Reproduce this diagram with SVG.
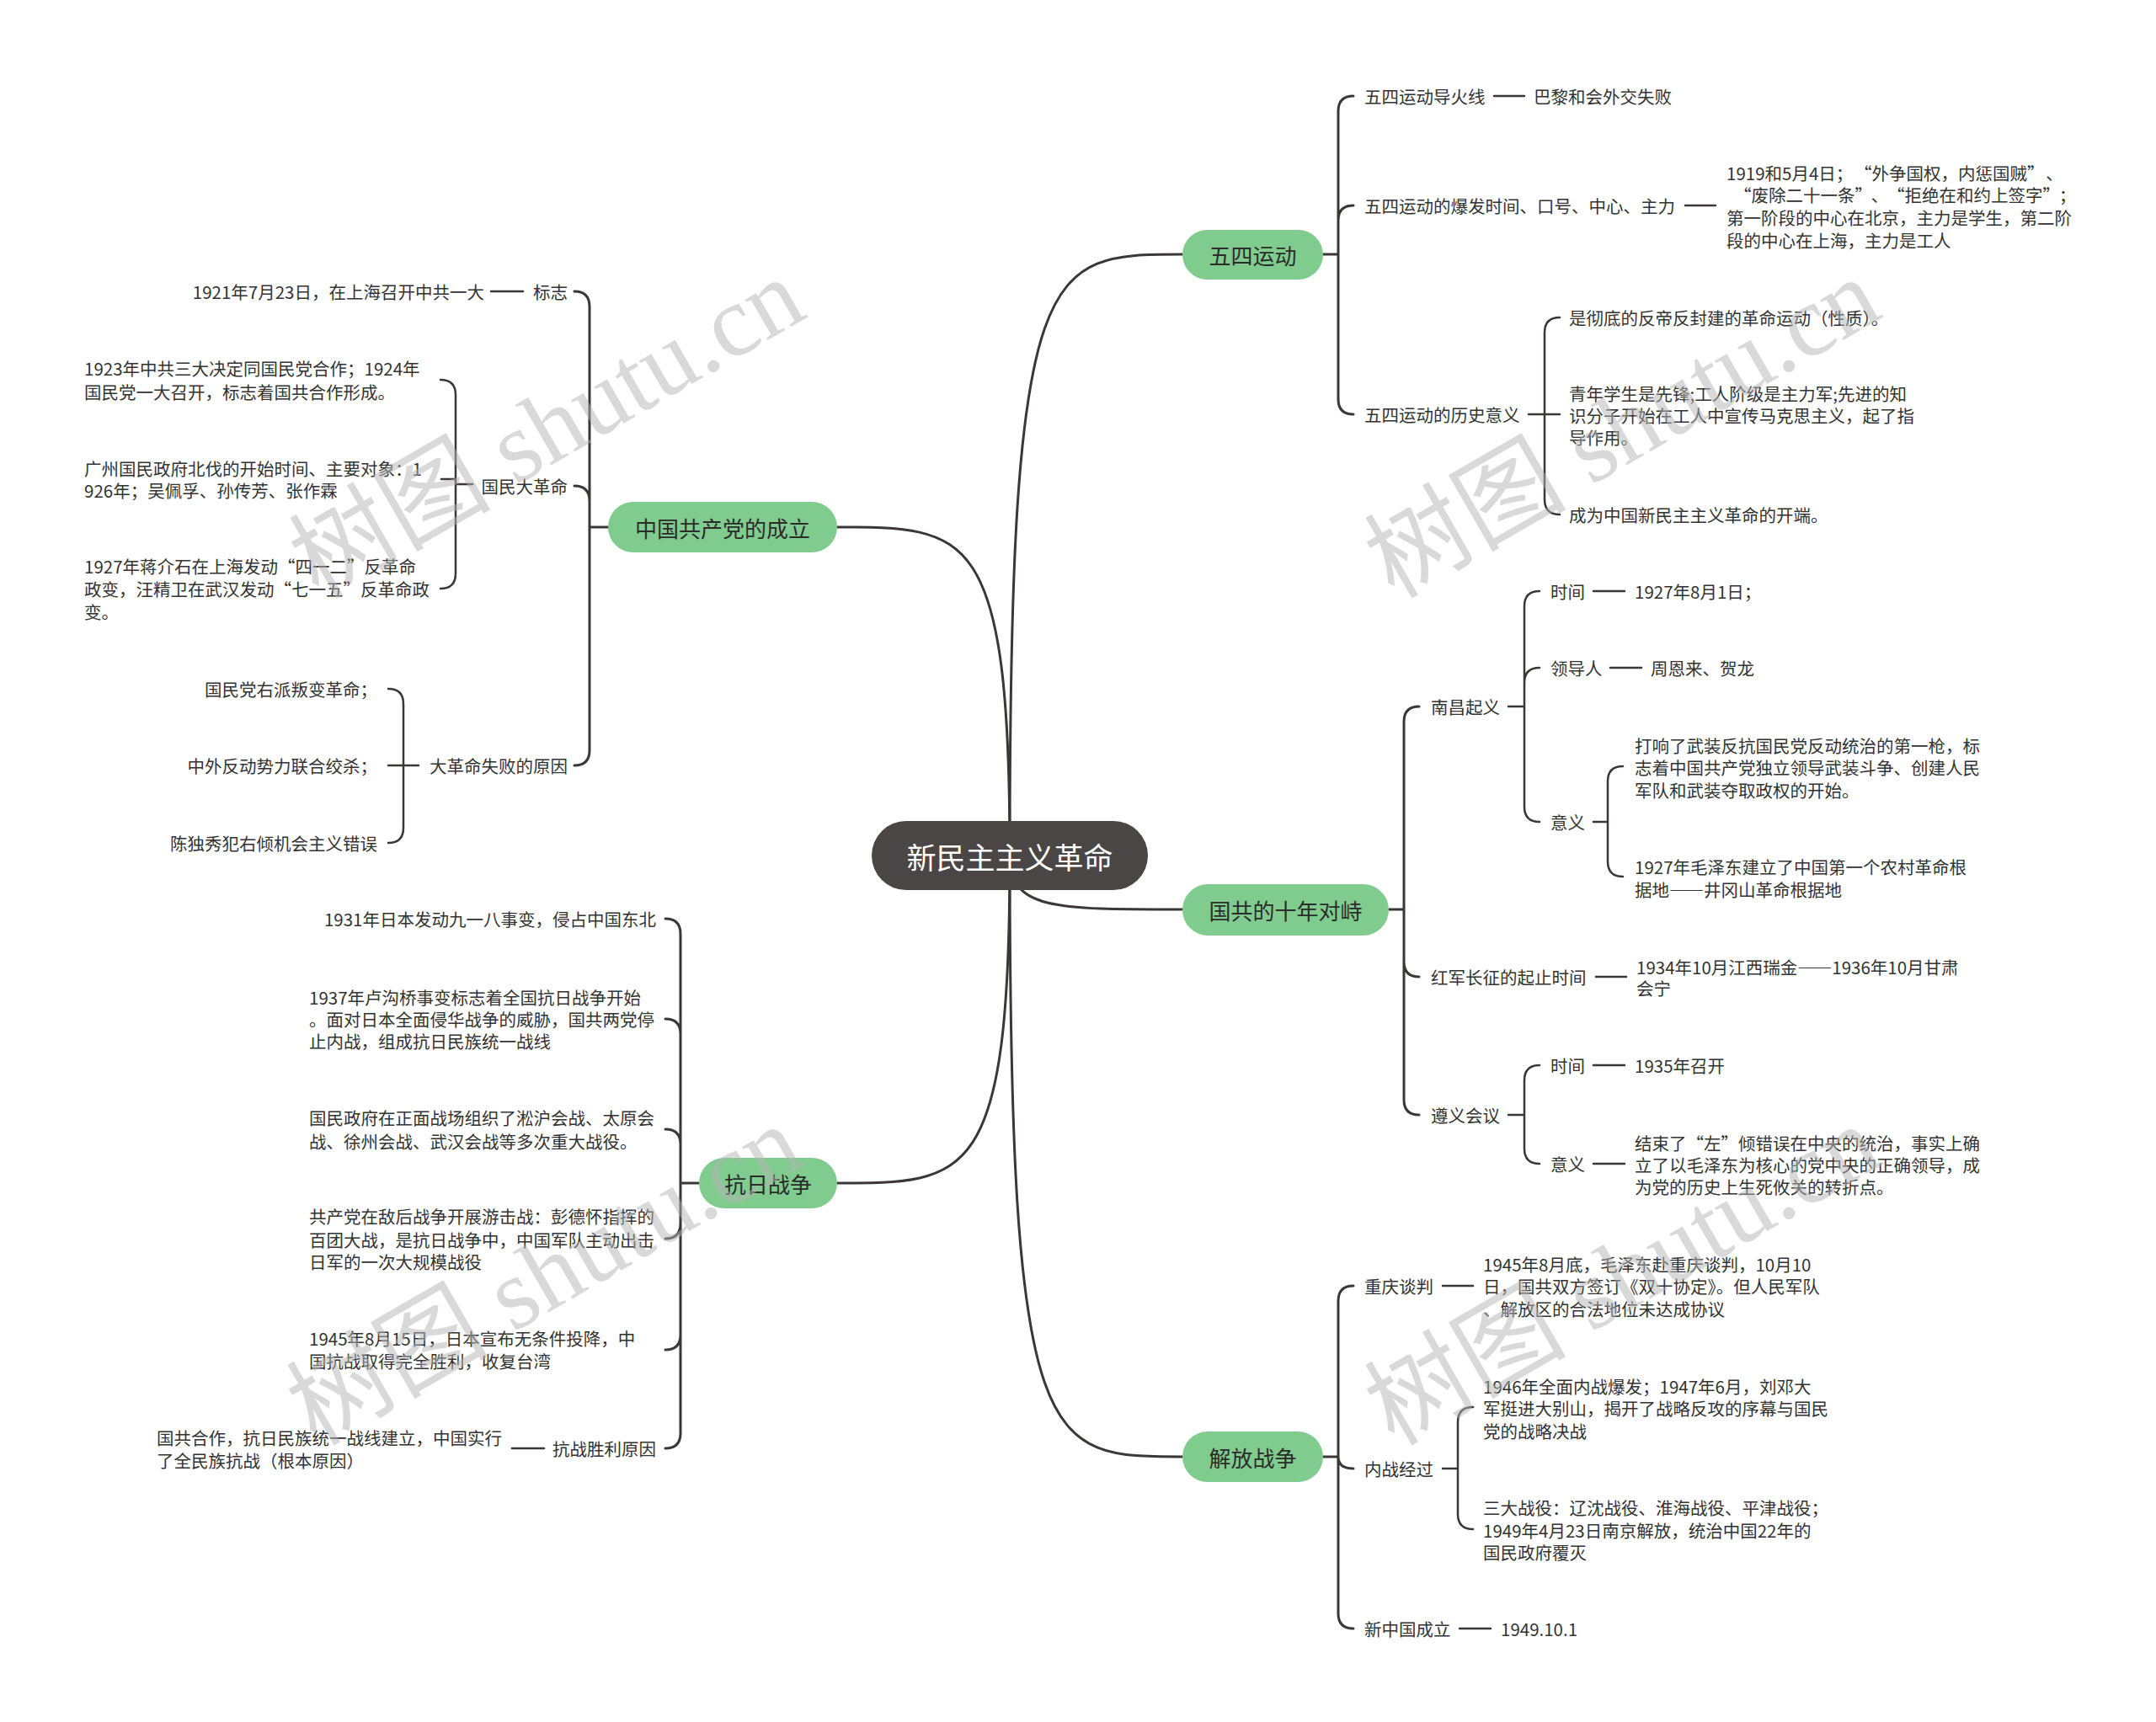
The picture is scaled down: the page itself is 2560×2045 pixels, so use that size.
<svg xmlns="http://www.w3.org/2000/svg" width="2560" height="2045" viewBox="0 0 2560 2045">
<style>
.t{font-family:"Noto Sans CJK SC","Microsoft YaHei",sans-serif;font-size:20.5px;fill:#333;dominant-baseline:central}
.e{text-anchor:end}
.m{text-anchor:middle}
.g{font-size:26px;fill:#2b2b2b}
.r{font-size:35px;fill:#fff}
.fw{font-feature-settings:"fwid"}
.ln{fill:none;stroke:#3b3737;stroke-width:2.5;stroke-linecap:round}
.mn{stroke-width:3}
.gn{fill:#80cc8f}
.wm{font-family:"Liberation Serif","Noto Sans CJK SC",serif;font-size:120px;fill:#b4b4b4;opacity:0.5}
</style>
<rect width="2560" height="2045" fill="#fff"/>
<g id="connectors">
<path class="ln mn" d="M1199,1016 C1199,302 1240,302 1404,302"/>
<path class="ln mn" d="M1199,1016 C1199,1080 1250,1080 1404,1080"/>
<path class="ln mn" d="M1199,1016 C1199,1730 1240,1730 1404,1730"/>
<path class="ln mn" d="M1199,1016 C1199,626 1150,626 994,626"/>
<path class="ln mn" d="M1199,1016 C1199,1405 1150,1405 994,1405"/>
<path class="ln mn" d="M1571,302 H1589 M1607,114 Q1589,114 1589,132 V474 Q1589,492 1607,492 M1589,262 Q1589,244 1607,244"/>
<path class="ln" d="M1774,114 H1810 M2001,244 H2037"/>
<path class="ln" d="M1815,492 H1852 M1852,377 Q1834,377 1834,395 V593 Q1834,611 1852,611"/>
<path class="ln mn" d="M1649,1080 H1667 M1685,839 Q1667,839 1667,857 V1306 Q1667,1324 1685,1324 M1667,1142 Q1667,1160 1685,1160"/>
<path class="ln" d="M1791,839 H1810 M1828,702 Q1810,702 1810,720 V958 Q1810,976 1828,976 M1810,811 Q1810,793 1828,793"/>
<path class="ln" d="M1892,702 H1929 M1912,793 H1949"/>
<path class="ln" d="M1892,976 H1909 M1927,910 Q1909,910 1909,928 V1023 Q1909,1041 1927,1041"/>
<path class="ln" d="M1895,1160 H1931"/>
<path class="ln" d="M1791,1324 H1810 M1828,1265 Q1810,1265 1810,1283 V1364 Q1810,1382 1828,1382"/>
<path class="ln" d="M1892,1265 H1929 M1892,1382 H1929"/>
<path class="ln mn" d="M1571,1730 H1589 M1607,1527 Q1589,1527 1589,1545 V1916 Q1589,1934 1607,1934 M1589,1730 Q1589,1744 1607,1744"/>
<path class="ln" d="M1713,1527 H1749 M1733,1934 H1770"/>
<path class="ln" d="M1713,1744 H1731 M1749,1671 Q1731,1671 1731,1689 V1798 Q1731,1816 1749,1816"/>
<path class="ln mn" d="M722,626 H700 M682,346 Q700,346 700,364 V891 Q700,909 682,909 M700,595 Q700,577 682,577"/>
<path class="ln" d="M583,346 H621"/>
<path class="ln" d="M561,575 H541 M523,451 Q541,451 541,469 V681 Q541,699 523,699 M541,569 H524"/>
<path class="ln" d="M497,909 H461 M461,818 Q479,818 479,836 V983 Q479,1001 461,1001"/>
<path class="ln mn" d="M830,1405 H808 M790,1091 Q808,1091 808,1109 V1702 Q808,1720 790,1720 M808,1228 Q808,1210 790,1210 M808,1359 Q808,1341 790,1341 M808,1453 Q808,1471 790,1471 M808,1585 Q808,1603 790,1603"/>
<path class="ln" d="M608,1720 H646"/>
</g>
<g id="root">
<rect x="1035" y="975" width="328" height="82" rx="41" fill="#4a4646"/>
<text class="t r m" x="1199" y="1016">新民主主义革命</text>
</g>
<g id="n-wusi">
<rect class="gn" x="1404" y="273" width="167" height="59" rx="29.5"/>
<text class="t g m" x="1487.5" y="302">五四运动</text>
</g>
<g id="n-wusi-1"><text class="t" x="1620" y="114">五四运动导火线</text></g>
<g id="n-wusi-1a"><text class="t" x="1821" y="114">巴黎和会外交失败</text></g>
<g id="n-wusi-2"><text class="t" x="1620" y="244">五四运动的爆发时间、口号、中心、主力</text></g>
<g id="n-wusi-2a"><text class="t"><tspan x="2050" y="205">1919和5月4日；<tspan dx="12">“</tspan>外争国权，内惩国贼”<tspan dx="12">、</tspan></tspan><tspan x="2050" y="231"><tspan dx="9">“</tspan>废除二十一条”<tspan dx="9">、</tspan><tspan dx="9">“</tspan>拒绝在和约上签字”<tspan dx="9">；</tspan></tspan><tspan x="2050" y="258">第一阶段的中心在北京，主力是学生，第二阶</tspan><tspan x="2050" y="285">段的中心在上海，主力是工人</tspan></text></g>
<g id="n-wusi-3"><text class="t" x="1620" y="492">五四运动的历史意义</text></g>
<g id="n-wusi-3a"><text class="t" x="1863" y="377">是彻底的反帝反封建的革命运动（性质）。</text></g>
<g id="n-wusi-3b"><text class="t"><tspan x="1863" y="467">青年学生是先锋;工人阶级是主力军;先进的知</tspan><tspan x="1863" y="493">识分子开始在工人中宣传马克思主义，起了指</tspan><tspan x="1863" y="519">导作用。</tspan></text></g>
<g id="n-wusi-3c"><text class="t" x="1863" y="611">成为中国新民主主义革命的开端。</text></g>
<g id="n-guogong">
<rect class="gn" x="1404" y="1050" width="245" height="61" rx="30.5"/>
<text class="t g m" x="1526.5" y="1080">国共的十年对峙</text>
</g>
<g id="n-nanchang"><text class="t" x="1699" y="839">南昌起义</text></g>
<g id="n-nc-time"><text class="t" x="1841" y="702">时间</text></g>
<g id="n-nc-time-a"><text class="t" x="1941" y="702">1927年8月1日；</text></g>
<g id="n-nc-lead"><text class="t" x="1841" y="793">领导人</text></g>
<g id="n-nc-lead-a"><text class="t" x="1960" y="793">周恩来、贺龙</text></g>
<g id="n-nc-mean"><text class="t" x="1841" y="976">意义</text></g>
<g id="n-nc-mean-a"><text class="t"><tspan x="1941" y="885">打响了武装反抗国民党反动统治的第一枪，标</tspan><tspan x="1941" y="911">志着中国共产党独立领导武装斗争、创建人民</tspan><tspan x="1941" y="938">军队和武装夺取政权的开始。</tspan></text></g>
<g id="n-nc-mean-b"><text class="t"><tspan x="1941" y="1029">1927年毛泽东建立了中国第一个农村革命根</tspan><tspan x="1941" y="1056">据地<tspan class="fw">——</tspan>井冈山革命根据地</tspan></text></g>
<g id="n-changzheng"><text class="t" x="1699" y="1160">红军长征的起止时间</text></g>
<g id="n-changzheng-a"><text class="t"><tspan x="1943" y="1148">1934年10月江西瑞金<tspan class="fw">——</tspan>1936年10月甘肃</tspan><tspan x="1943" y="1173">会宁</tspan></text></g>
<g id="n-zunyi"><text class="t" x="1699" y="1324">遵义会议</text></g>
<g id="n-zy-time"><text class="t" x="1841" y="1265">时间</text></g>
<g id="n-zy-time-a"><text class="t" x="1941" y="1265">1935年召开</text></g>
<g id="n-zy-mean"><text class="t" x="1841" y="1382">意义</text></g>
<g id="n-zy-mean-a"><text class="t"><tspan x="1941" y="1357">结束了“左”倾错误在中央的统治，事实上确</tspan><tspan x="1941" y="1383">立了以毛泽东为核心的党中央的正确领导，成</tspan><tspan x="1941" y="1409">为党的历史上生死攸关的转折点。</tspan></text></g>
<g id="n-jiefang">
<rect class="gn" x="1404" y="1700" width="167" height="60" rx="30"/>
<text class="t g m" x="1487.5" y="1730">解放战争</text>
</g>
<g id="n-cq"><text class="t" x="1620" y="1527">重庆谈判</text></g>
<g id="n-cq-a"><text class="t"><tspan x="1761" y="1501">1945年8月底，毛泽东赴重庆谈判，10月10</tspan><tspan x="1761" y="1527">日，国共双方签订《双十协定》。但人民军队</tspan><tspan x="1761" y="1554">、解放区的合法地位未达成协议</tspan></text></g>
<g id="n-nz"><text class="t" x="1620" y="1744">内战经过</text></g>
<g id="n-nz-a"><text class="t"><tspan x="1761" y="1646">1946年全面内战爆发；1947年6月，刘邓大</tspan><tspan x="1761" y="1672">军挺进大别山，揭开了战略反攻的序幕与国民</tspan><tspan x="1761" y="1699">党的战略决战</tspan></text></g>
<g id="n-nz-b"><text class="t"><tspan x="1761" y="1790">三大战役：辽沈战役、淮海战役、平津战役；</tspan><tspan x="1761" y="1817">1949年4月23日南京解放，统治中国22年的</tspan><tspan x="1761" y="1843">国民政府覆灭</tspan></text></g>
<g id="n-xzg"><text class="t" x="1620" y="1934">新中国成立</text></g>
<g id="n-xzg-a"><text class="t" x="1782" y="1934">1949.10.1</text></g>
<g id="n-zhonggong">
<rect class="gn" x="722" y="596" width="272" height="60" rx="30"/>
<text class="t g m" x="858" y="626">中国共产党的成立</text>
</g>
<g id="n-bz"><text class="t e" x="674" y="346">标志</text></g>
<g id="n-bz-a"><text class="t e" x="575" y="346">1921年7月23日，在上海召开中共一大</text></g>
<g id="n-gm"><text class="t e" x="674" y="577">国民大革命</text></g>
<g id="n-gm-a"><text class="t"><tspan x="100" y="437">1923年中共三大决定同国民党合作；1924年</tspan><tspan x="100" y="465">国民党一大召开，标志着国共合作形成。</tspan></text></g>
<g id="n-gm-b"><text class="t"><tspan x="100" y="556">广州国民政府北伐的开始时间、主要对象：1</tspan><tspan x="100" y="582">926年；吴佩孚、孙传芳、张作霖</tspan></text></g>
<g id="n-gm-c"><text class="t"><tspan x="100" y="672">1927年蒋介石在上海发动“四一二”反革命</tspan><tspan x="100" y="699">政变，汪精卫在武汉发动“七一五”反革命政</tspan><tspan x="100" y="726">变。</tspan></text></g>
<g id="n-sb"><text class="t e" x="674" y="909">大革命失败的原因</text></g>
<g id="n-sb-a"><text class="t e" x="448" y="818">国民党右派叛变革命；</text></g>
<g id="n-sb-b"><text class="t e" x="448" y="909">中外反动势力联合绞杀；</text></g>
<g id="n-sb-c"><text class="t e" x="448" y="1001">陈独秀犯右倾机会主义错误</text></g>
<g id="n-kangri">
<rect class="gn" x="830" y="1375" width="164" height="60" rx="30"/>
<text class="t g m" x="912" y="1405">抗日战争</text>
</g>
<g id="n-kr-1"><text class="t e" x="779" y="1091">1931年日本发动九一八事变，侵占中国东北</text></g>
<g id="n-kr-2"><text class="t"><tspan x="367" y="1184">1937年卢沟桥事变标志着全国抗日战争开始</tspan><tspan x="367" y="1210">。面对日本全面侵华战争的威胁，国共两党停</tspan><tspan x="367" y="1236">止内战，组成抗日民族统一战线</tspan></text></g>
<g id="n-kr-3"><text class="t"><tspan x="367" y="1327">国民政府在正面战场组织了淞沪会战、太原会</tspan><tspan x="367" y="1355">战、徐州会战、武汉会战等多次重大战役。</tspan></text></g>
<g id="n-kr-4"><text class="t"><tspan x="367" y="1444">共产党在敌后战争开展游击战：彭德怀指挥的</tspan><tspan x="367" y="1472">百团大战，是抗日战争中，中国军队主动出击</tspan><tspan x="367" y="1498">日军的一次大规模战役</tspan></text></g>
<g id="n-kr-5"><text class="t"><tspan x="367" y="1589">1945年8月15日，日本宣布无条件投降，中</tspan><tspan x="367" y="1616">国抗战取得完全胜利，收复台湾</tspan></text></g>
<g id="n-kr-6"><text class="t e" x="779" y="1720">抗战胜利原因</text></g>
<g id="n-kr-6a"><text class="t"><tspan x="186" y="1707">国共合作，抗日民族统一战线建立，中国实行</tspan><tspan x="186" y="1734">了全民族抗战（根本原因）</tspan></text></g>
<g id="watermarks">
<text class="wm" x="378" y="712" transform="rotate(-30 378 712)">树图 shutu.cn</text>
<text class="wm" x="1655" y="712" transform="rotate(-30 1655 712)">树图 shutu.cn</text>
<text class="wm" x="375" y="1718" transform="rotate(-30 375 1718)">树图 shutu.cn</text>
<text class="wm" x="1655" y="1718" transform="rotate(-30 1655 1718)">树图 shutu.cn</text>
</g>
</svg>
